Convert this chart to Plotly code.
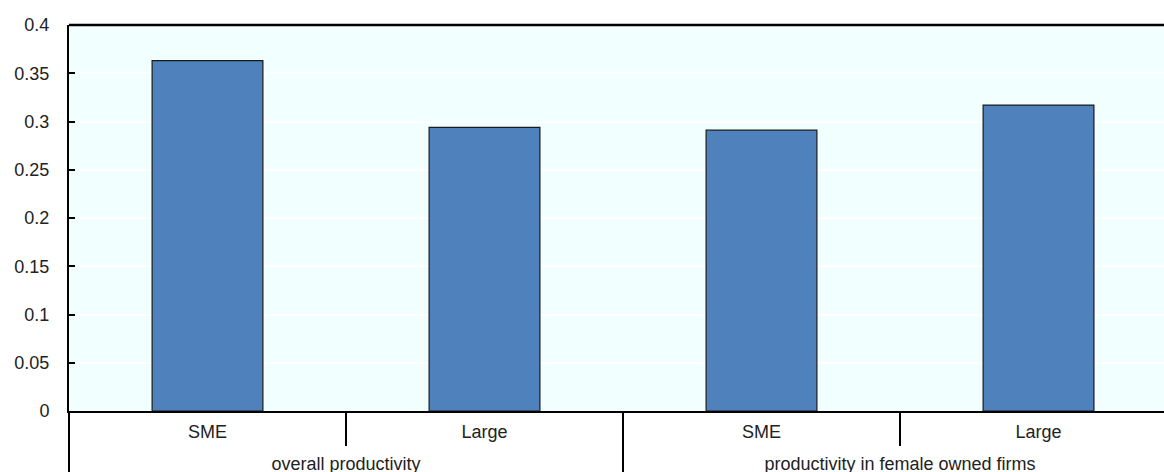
import plotly.graph_objects as go

groups = ["overall productivity", "overall productivity",
          "productivity in female owned firms", "productivity in female owned firms"]
sizes = ["SME", "Large", "SME", "Large"]
values = [0.363, 0.294, 0.291, 0.317]
y_ticks = [0, 0.05, 0.1, 0.15, 0.2, 0.25, 0.3, 0.35, 0.4]
y_tick_text = ["0", "0.05", "0.1", "0.15", "0.2", "0.25", "0.3", "0.35", "0.4"]

# shift the outer (group) label row down a little using a subscript offset
def lower(label, px=62):
    return ('<span style="font-size:%dpx"><sub><span style="font-size:18px">%s'
            '</span></sub></span>' % (px, label))

group_labels = [lower(g) for g in groups]

fig = go.Figure(go.Bar(
    x=[group_labels, sizes], y=values,
    marker=dict(color="#4F81BD", line=dict(color="#1a1a1a", width=1.2)),
    width=0.4,
))

fig.update_layout(
    width=1164, height=472,
    margin=dict(l=69, r=0, t=25, b=61),
    paper_bgcolor="white", plot_bgcolor="#F2FFFF",
    font=dict(family="Liberation Sans, Arial, sans-serif", size=18, color="#222"),
    showlegend=False,
    bargap=0.6,
)
fig.update_xaxes(
    type="multicategory", range=[-0.5, 3.453],
    showline=True, linecolor="black", linewidth=2,
    ticks="outside", tickson="boundaries", ticklen=33, tickwidth=2, tickcolor="black",
    showdividers=True, dividercolor="black", dividerwidth=2,
    showgrid=False, tickfont=dict(size=18, color="#222"),
    ticklabelstandoff=3,
)
fig.update_yaxes(
    range=[0, 0.4], tickvals=y_ticks, ticktext=y_tick_text,
    showline=True, linecolor="black", linewidth=2,
    ticks="inside", ticklen=6, tickwidth=2, tickcolor="black",
    showgrid=True, gridcolor="white", gridwidth=1.5,
    zeroline=False, ticklabelstandoff=14,
    tickfont=dict(size=18, color="#222"),
)
fig.add_shape(type="line", xref="paper", yref="paper", x0=0, x1=1, y0=1, y1=1,
              line=dict(color="black", width=2.5))
fig.write_html("out.html")
